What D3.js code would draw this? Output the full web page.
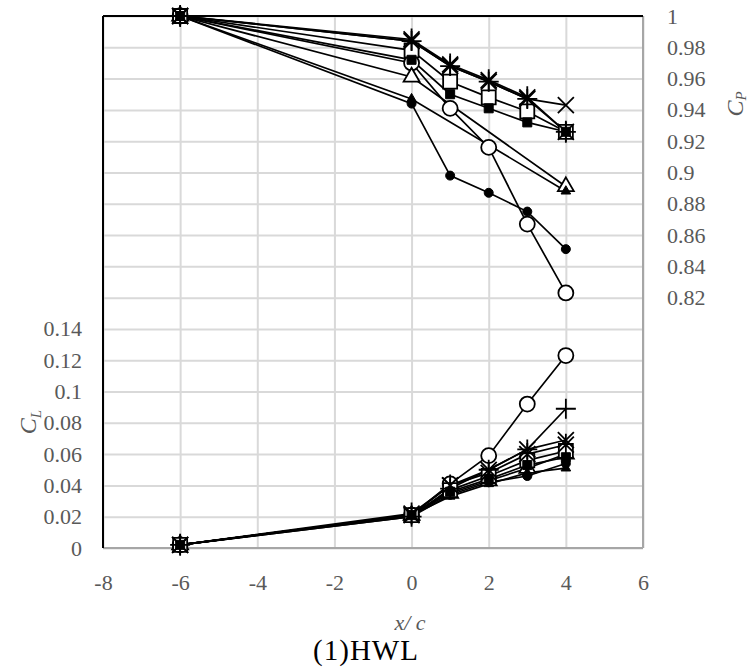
<!DOCTYPE html>
<meta charset="utf-8">
<script src="https://d3js.org/d3.v7.min.js"></script>
<style>
  body { margin: 0; background: #fff; }
  text { font-family: "Liberation Serif", serif; }
</style>
<svg id="chart" width="750" height="668"></svg>
<script>

// x positions (x/c) shared by every series
var xValues = [-6, 0, 1, 2, 3, 4];

// marker of each series, in drawing order
var markers = ["circleOpen", "circleFilled", "triangleOpen", "triangleFilled",
               "squareOpen", "squareFilled", "plus", "times", "star"];

// Cp, right axis (null = no point)
var cpValues = [
  [1.0, 0.970, 0.941, 0.916, 0.867, 0.823],
  [1.0, 0.944, 0.898, 0.887, 0.875, 0.851],
  [1.0, 0.961, null, null, null, 0.891],
  [1.0, 0.947, null, null, null, 0.888],
  [1.0, 0.978, 0.958, 0.948, 0.939, 0.926],
  [1.0, 0.972, 0.950, 0.941, 0.932, 0.926],
  [1.0, 0.984, 0.968, 0.958, 0.947, 0.926],
  [1.0, 0.984, 0.968, 0.958, 0.947, 0.943],
  [1.0, 0.985, 0.969, 0.959, 0.948, 0.926]
];

// CL, left axis
var clValues = [
  [0.002, 0.021, 0.041, 0.059, 0.092, 0.123],
  [0.002, 0.020, 0.034, 0.042, 0.046, 0.054],
  [0.002, 0.021, 0.035, 0.043, 0.051, 0.060],
  [0.002, 0.021, 0.033, 0.041, 0.048, 0.051],
  [0.002, 0.021, 0.037, 0.046, 0.056, 0.062],
  [0.002, 0.021, 0.036, 0.044, 0.053, 0.058],
  [0.002, 0.020, 0.038, 0.050, 0.063, 0.089],
  [0.002, 0.021, 0.040, 0.050, 0.063, 0.069],
  [0.002, 0.022, 0.040, 0.048, 0.060, 0.066]
];

// tick labels
var xTicks = [-8, -6, -4, -2, 0, 2, 4, 6];
var clTicks = [0, 0.02, 0.04, 0.06, 0.08, 0.1, 0.12, 0.14];
var cpTicks = [0.82, 0.84, 0.86, 0.88, 0.9, 0.92, 0.94, 0.96, 0.98, 1];
var gridTicks = d3.range(0, 0.3401, 0.02);

var svg = d3.select("#chart");
var pLeft = 103, pRight = 643, pTop = 16, pBottom = 548;

var x = d3.scaleLinear().domain([-8, 6]).range([pLeft, pRight]);
var yL = d3.scaleLinear().domain([0, 0.34]).range([pBottom, pTop]);
var yP = d3.scaleLinear().domain([0.66, 1]).range([pBottom, pTop]);

var fmt = function(v) { return String(+v.toFixed(2)); };
var grey = "#595959";

// gridlines
svg.append("g")
  .attr("transform", "translate(0," + pBottom + ")")
  .call(d3.axisBottom(x).tickValues(xTicks).tickSize(-(pBottom - pTop)).tickFormat(""))
  .call(function(g) { g.select(".domain").remove(); })
  .selectAll("line").attr("stroke", "#d9d9d9").attr("stroke-width", 2);

svg.append("g")
  .attr("transform", "translate(" + pLeft + ",0)")
  .call(d3.axisLeft(yL).tickValues(gridTicks).tickSize(-(pRight - pLeft)).tickFormat(""))
  .call(function(g) { g.select(".domain").remove(); })
  .selectAll("line").attr("stroke", "#d9d9d9").attr("stroke-width", 2);

// frame
svg.append("line").attr("x1", pRight).attr("x2", pRight).attr("y1", pTop).attr("y2", pBottom)
  .attr("stroke", "#a6a6a6").attr("stroke-width", 2);
svg.append("line").attr("x1", pLeft).attr("x2", pRight).attr("y1", pBottom).attr("y2", pBottom)
  .attr("stroke", "#a6a6a6").attr("stroke-width", 2);
svg.append("line").attr("x1", pLeft).attr("x2", pLeft).attr("y1", pTop).attr("y2", pBottom)
  .attr("stroke", "#000").attr("stroke-width", 2);
svg.append("line").attr("x1", pLeft).attr("x2", pRight).attr("y1", pTop).attr("y2", pTop)
  .attr("stroke", "#000").attr("stroke-width", 2);

// tick labels
var xAxis = svg.append("g")
  .attr("transform", "translate(0," + pBottom + ")")
  .call(d3.axisBottom(x).tickValues(xTicks).tickSize(0).tickPadding(26).tickFormat(d3.format("")));
var lAxis = svg.append("g")
  .attr("transform", "translate(" + pLeft + ",0)")
  .call(d3.axisLeft(yL).tickValues(clTicks).tickSize(0).tickPadding(21).tickFormat(fmt));
var rAxis = svg.append("g")
  .attr("transform", "translate(" + pRight + ",0)")
  .call(d3.axisRight(yP).tickValues(cpTicks).tickSize(0).tickPadding(24).tickFormat(fmt));
[xAxis, lAxis, rAxis].forEach(function(g) {
  g.select(".domain").remove();
  g.selectAll("text").attr("fill", grey).style("font-size", "22px")
    .style("font-family", "'Liberation Serif', serif");
});
xAxis.selectAll("text").text(function(d) { return d < 0 ? "-" + (-d) : d; });

// axis titles
svg.append("text").attr("x", 410).attr("y", 630).attr("text-anchor", "middle")
  .attr("fill", grey).style("font-size", "22px").style("font-style", "italic")
  .text("x/ c");
svg.append("text").attr("x", 366).attr("y", 660).attr("text-anchor", "middle")
  .attr("fill", "#000").style("font-size", "29px").style("letter-spacing", "1px")
  .text("(1)HWL");

var tl = svg.append("text").attr("transform", "translate(36,422) rotate(-90)")
  .attr("text-anchor", "middle").attr("fill", grey).style("font-size", "24px").style("font-style", "italic");
tl.append("tspan").text("C");
tl.append("tspan").attr("dy", 5).style("font-size", "15px").text("L");

var tp = svg.append("text").attr("transform", "translate(743,104) rotate(-90)")
  .attr("text-anchor", "middle").attr("fill", grey).style("font-size", "24px").style("font-style", "italic");
tp.append("tspan").text("C");
tp.append("tspan").attr("dy", 3).style("font-size", "15px").text("P");

// marker shapes
function markerPath(type) {
  switch (type) {
    case "circleOpen": return d3.symbol(d3.symbolCircle, Math.PI * 7.5 * 7.5)();
    case "circleFilled": return d3.symbol(d3.symbolCircle, Math.PI * 4.5 * 4.5)();
    case "squareOpen": return d3.symbol(d3.symbolSquare, 14 * 14)();
    case "squareFilled": return d3.symbol(d3.symbolSquare, 9 * 9)();
    case "triangleOpen": return d3.symbol(d3.symbolTriangle, 110)();
    case "triangleFilled": return d3.symbol(d3.symbolTriangle, 40)();
    case "plus": return "M-10,0H10M0,-10V10";
    case "times": return "M-8,-8L8,8M-8,8L8,-8";
    case "star": return "M-8,-8L8,8M-8,8L8,-8M0,-11V11";
  }
}
function markerFill(type) {
  if (type === "circleOpen" || type === "squareOpen" || type === "triangleOpen") return "#fff";
  if (type === "plus" || type === "times" || type === "star") return "none";
  return "#000";
}

function drawSet(values, yScale) {
  var lines = svg.append("g");
  var marks = svg.append("g");
  var lineGen = d3.line().x(function(d) { return x(d[0]); }).y(function(d) { return yScale(d[1]); });
  values.forEach(function(ys) {
    // skip missing points when joining
    var pts = xValues.map(function(v, i) { return [v, ys[i]]; }).filter(function(d) { return d[1] != null; });
    lines.append("path")
      .attr("d", lineGen(pts))
      .attr("fill", "none").attr("stroke", "#000").attr("stroke-width", 1.7);
  });
  values.forEach(function(ys, s) {
    var type = markers[s];
    var pts = xValues.map(function(v, i) { return [v, ys[i]]; }).filter(function(d) { return d[1] != null; });
    marks.selectAll(null).data(pts).enter().append("path")
      .attr("transform", function(d) { return "translate(" + x(d[0]) + "," + yScale(d[1]) + ")"; })
      .attr("d", markerPath(type))
      .attr("fill", markerFill(type))
      .attr("stroke", "#000")
      .attr("stroke-width", /Filled/.test(type) ? 1 : 1.8);
  });
}

drawSet(clValues, yL);
drawSet(cpValues, yP);

</script>
